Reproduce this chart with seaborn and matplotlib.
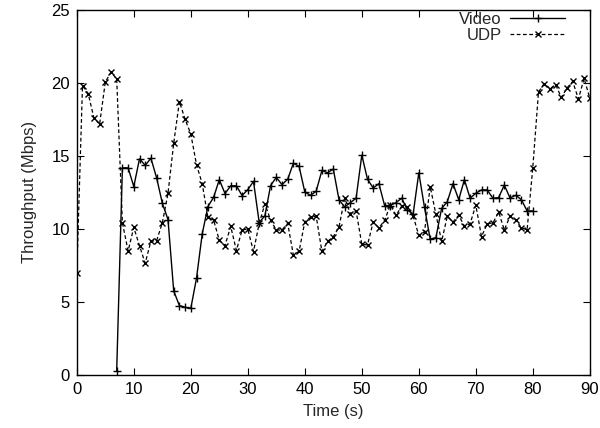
import numpy as np
import pandas as pd
import matplotlib
matplotlib.use("Agg")
import matplotlib.pyplot as plt
import seaborn as sns

# throughput samples, one per second
udp_time = list(range(0, 91))
udp_mbps = [7.0, 19.8, 19.26, 17.6, 17.16, 20.05, 20.74, 20.26, 10.42, 8.49,
            10.1, 8.84, 7.65, 9.16, 9.2, 10.4, 12.44, 15.86, 18.72, 17.5,
            16.5, 14.4, 13.1, 10.8, 10.6, 9.22, 8.86, 10.17, 8.52, 9.93,
            9.98, 8.45, 10.38, 11.72, 10.6, 9.92, 9.93, 10.38, 8.2, 8.47,
            10.48, 10.8, 10.86, 8.46, 9.14, 9.47, 10.13, 12.1, 11.05, 11.23,
            8.95, 8.9, 10.47, 10.07, 10.58, 11.63, 10.93, 11.56, 11.5, 10.9,
            9.55, 9.8, 12.9, 11.0, 9.14, 10.86, 10.47, 10.93, 10.19, 10.35,
            11.63, 9.47, 10.35, 10.4, 11.16, 9.93, 10.86, 10.63, 10.07, 9.93,
            14.2, 19.37, 19.95, 19.6, 19.88, 19.0, 19.65, 20.1, 18.9, 20.3,
            18.95]

video_time = list(range(7, 81))
video_mbps = [0.3, 14.18, 14.18, 12.9, 14.8, 14.35, 14.84, 13.5, 11.77, 10.64,
              5.75, 4.75, 4.63, 4.56, 6.62, 9.65, 11.53, 12.16, 13.37, 12.42,
              12.95, 12.95, 12.28, 12.69, 13.25, 10.43, 10.9, 12.97, 13.53, 13.03,
              13.4, 14.5, 14.28, 12.53, 12.3, 12.58, 14.0, 13.84, 14.1, 12.0,
              11.5, 11.8, 12.1, 15.05, 13.4, 12.8, 13.1, 11.6, 11.6, 11.8,
              12.1, 11.3, 11.0, 13.84, 11.47, 9.3, 9.4, 11.4, 11.86, 13.1,
              12.0, 13.37, 12.1, 12.44, 12.67, 12.67, 12.1, 12.14, 13.0, 12.12,
              12.3, 12.0, 11.23, 11.23]

x_ticks = list(range(0, 91, 10))
y_ticks = list(range(0, 26, 5))

video_df = pd.DataFrame({"time": video_time, "mbps": video_mbps})
udp_df = pd.DataFrame({"time": udp_time, "mbps": udp_mbps})

sns.set_style("ticks")
plt.rcParams["font.family"] = ["Liberation Sans", "DejaVu Sans"]

fig = plt.figure(figsize=(6, 4.28), dpi=100)
ax = fig.add_axes([0.128, 0.124, 0.855, 0.853])

sns.lineplot(data=video_df, x="time", y="mbps", ax=ax, color="black",
             linewidth=1.0, marker="+", markersize=6, markeredgewidth=1.0,
             markeredgecolor="black", label="Video")
sns.lineplot(data=udp_df, x="time", y="mbps", ax=ax, color="black",
             linewidth=0.9, linestyle=(0, (3, 2)), marker="x", markersize=4.5,
             markeredgewidth=1.0, markeredgecolor="black", label="UDP")

ax.set_xlim(0, 90)
ax.set_ylim(0, 25)
ax.set_xticks(x_ticks)
ax.set_yticks(y_ticks)
ax.tick_params(direction="in", top=True, right=True, length=5, width=0.8,
               labelsize=12, colors="black", pad=5)
for s in ax.spines.values():
    s.set_visible(True)
    s.set_linewidth(1.0)
    s.set_color("black")

ax.set_xlabel("Time (s)", fontsize=12, labelpad=5)
ax.set_ylabel("Throughput (Mbps)", fontsize=12, labelpad=10)

leg = ax.legend(loc="upper right", frameon=False, markerfirst=False,
                fontsize=12, handlelength=3.3, handletextpad=0.5,
                labelspacing=0.05, borderaxespad=0.0, bbox_to_anchor=(0.965, 1.012))

fig.savefig("out.png", dpi=100)
